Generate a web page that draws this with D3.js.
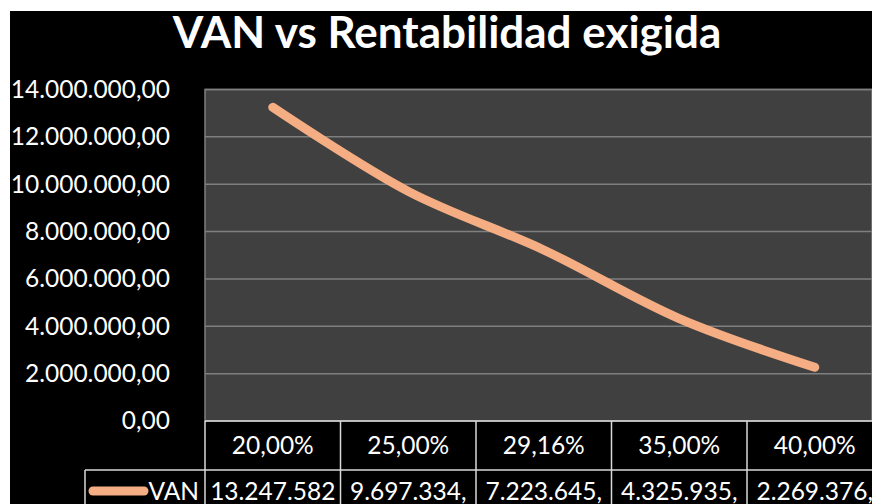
<!DOCTYPE html>
<html>
<head>
<meta charset="utf-8">
<script src="https://cdn.jsdelivr.net/npm/d3@7"></script>
<style>
    html, body { margin: 0; padding: 0; background: #ffffff; }
    svg { display: block; }
    text { font-family: Lato, 'Open Sans', sans-serif; fill: #ffffff; }
</style>
</head>
<body>
<div id="chart"></div>
<script>
(function(d3) {
    'use strict';

    // Chart data
    var rates = [0.20, 0.25, 0.2916, 0.35, 0.40];
    var van = [13247582, 9697334, 7223645, 4325935, 2269376];
    var yTicks = [0, 2000000, 4000000, 6000000, 8000000, 10000000, 12000000, 14000000];
    var seriesName = 'VAN';
    var title = 'VAN vs Rentabilidad exigida';

    var width = 872,
        height = 504;

    // Layout
    var frame = {left: 10, top: 11},
        plot = {left: 205, top: 89.5, bottom: 421},
        colWidth = 135.5,
        rowHeaderBottom = 470,
        legendLeft = 85,
        fontSize = '24.5px',
        maxChars = 10; // the table cells only show this many characters

    var colors = {
        plotBg: '#404040',
        grid: '#7f7f7f',
        line: '#f5ad83',
        border: '#d9d9d9'
    };

    // Spanish number formats
    var locale = d3.formatLocale({
        decimal: ',',
        thousands: '.',
        grouping: [3],
        currency: ['', ' €']
    });
    var fmtNumber = locale.format(',.2f'),
        fmtPercent = locale.format('.2%');

    var svg = d3.select('#chart').append('svg')
        .attr('width', width)
        .attr('height', height);

    // Black chart area
    svg.append('rect')
        .attr('x', frame.left)
        .attr('y', frame.top)
        .attr('width', width - frame.left)
        .attr('height', height - frame.top)
        .attr('fill', '#000000');

    // Title
    svg.append('text')
        .attr('x', 447)
        .attr('y', 48)
        .attr('text-anchor', 'middle')
        .style('font-size', '44px')
        .style('font-weight', 'bold')
        .text(title);

    // Scales
    var x = d3.scaleBand()
        .domain(rates)
        .range([plot.left, plot.left + colWidth * rates.length]);

    var y = d3.scaleLinear()
        .domain([0, 14000000])
        .range([plot.bottom, plot.top]);

    // Plot area background
    svg.append('rect')
        .attr('x', plot.left)
        .attr('y', plot.top)
        .attr('width', width - plot.left)
        .attr('height', plot.bottom - plot.top)
        .attr('fill', colors.plotBg)
        .attr('stroke', colors.grid)
        .attr('stroke-width', 1.5);

    // Gridlines
    svg.append('g')
        .selectAll('line')
        .data(yTicks.slice(1))
        .enter().append('line')
        .attr('x1', plot.left)
        .attr('x2', width)
        .attr('y1', function(d) { return y(d); })
        .attr('y2', function(d) { return y(d); })
        .attr('stroke', colors.grid)
        .attr('stroke-width', 1.5);

    // Y axis
    var yAxis = svg.append('g')
        .attr('transform', 'translate(170,0)')
        .call(d3.axisLeft(y).tickValues(yTicks).tickFormat(fmtNumber).tickSize(0).tickPadding(0));
    yAxis.select('.domain').remove();
    yAxis.selectAll('text')
        .attr('fill', '#ffffff')
        .style('font-size', fontSize)
        .style('font-family', 'Lato, sans-serif');

    // Line
    var line = d3.line()
        .x(function(d, i) { return x(rates[i]) + x.bandwidth() / 2; })
        .y(function(d) { return y(d); })
        .curve(d3.curveCatmullRom);

    svg.append('path')
        .datum(van)
        .attr('d', line)
        .attr('fill', 'none')
        .attr('stroke', colors.line)
        .attr('stroke-width', 9)
        .attr('stroke-linecap', 'round')
        .attr('stroke-linejoin', 'round');

    // Data table
    var table = svg.append('g');

    // Header row (categories)
    table.selectAll('text.cat')
        .data(rates)
        .enter().append('text')
        .attr('class', 'cat')
        .attr('x', function(d) { return x(d) + x.bandwidth() / 2; })
        .attr('y', 454)
        .attr('text-anchor', 'middle')
        .style('font-size', fontSize)
        .text(function(d) { return fmtPercent(d); });

    // Value row, cut short like the spreadsheet cells
    table.selectAll('text.val')
        .data(van)
        .enter().append('text')
        .attr('class', 'val')
        .attr('x', function(d, i) { return x(rates[i]) + x.bandwidth() / 2; })
        .attr('y', 500)
        .attr('text-anchor', 'middle')
        .style('font-size', fontSize)
        .text(function(d) { return fmtNumber(d).slice(0, maxChars); });

    // Legend cell
    table.append('line')
        .attr('x1', legendLeft + 8)
        .attr('x2', legendLeft + 59)
        .attr('y1', 491)
        .attr('y2', 491)
        .attr('stroke', colors.line)
        .attr('stroke-width', 9)
        .attr('stroke-linecap', 'round');

    table.append('text')
        .attr('x', plot.left - 6)
        .attr('y', 500)
        .attr('text-anchor', 'end')
        .style('font-size', fontSize)
        .text(seriesName);

    // Table borders
    var borders = table.append('g')
        .attr('stroke', colors.border)
        .attr('stroke-width', 1.5);

    borders.append('line')
        .attr('x1', plot.left).attr('x2', width)
        .attr('y1', plot.bottom).attr('y2', plot.bottom);

    borders.append('line')
        .attr('x1', legendLeft).attr('x2', width)
        .attr('y1', rowHeaderBottom).attr('y2', rowHeaderBottom);

    borders.append('line')
        .attr('x1', legendLeft).attr('x2', legendLeft)
        .attr('y1', rowHeaderBottom).attr('y2', height);

    borders.selectAll('line.col')
        .data(rates)
        .enter().append('line')
        .attr('class', 'col')
        .attr('x1', function(d) { return x(d); })
        .attr('x2', function(d) { return x(d); })
        .attr('y1', plot.bottom)
        .attr('y2', height);

}(d3));
</script>
</body>
</html>
